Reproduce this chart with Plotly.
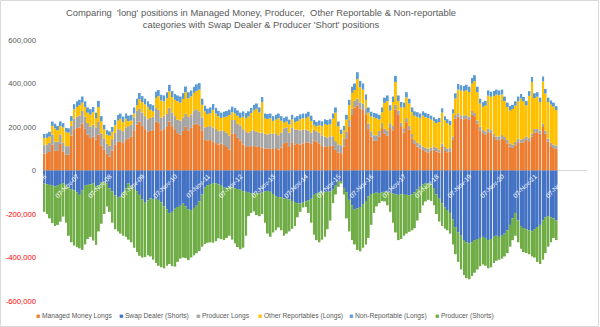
import plotly.graph_objects as go
import pandas as pd

# Monthly observation dates (7th of each month), Nov-2006 .. Jul-2022
dates = (pd.date_range("2006-11-01", periods=189, freq="MS") + pd.Timedelta(days=6)).strftime("%Y-%m-%d").tolist()

# Values in thousands of contracts
managed_money_longs = [
    78, 80, 85, 120, 92, 90, 122, 88, 74, 72, 160, 190,
    195, 198, 216, 192, 165, 150, 156, 142, 165, 115, 95, 78,
    65, 92, 118, 132, 132, 126, 140, 148, 155, 185, 212, 225,
    205, 190, 178, 182, 185, 225, 218, 185, 190, 200, 225, 204,
    190, 172, 165, 182, 202, 182, 196, 210, 216, 208, 182, 140,
    138, 140, 132, 126, 119, 124, 118, 108, 96, 170, 168, 150,
    138, 120, 112, 108, 112, 113, 110, 108, 104, 101, 100, 102,
    99, 103, 96, 105, 122, 130, 108, 130, 118, 122, 120, 125,
    130, 128, 122, 138, 132, 125, 112, 110, 108, 112, 115, 95,
    82, 80, 110, 145, 200, 255, 290, 300, 285, 278, 258, 190,
    155, 138, 136, 157, 195, 170, 160, 195, 185, 280, 255, 200,
    175, 222, 187, 148, 122, 110, 102, 95, 88, 82, 90, 95,
    88, 82, 108, 90, 84, 88, 140, 238, 248, 238, 236, 240,
    232, 258, 250, 215, 185, 172, 165, 176, 172, 155, 141, 141,
    148, 140, 125, 110, 104, 116, 130, 128, 130, 140, 135, 155,
    175, 176, 170, 200, 168, 132, 112, 103, 100]

swap_dealer_shorts = [
    -60, -63, -66, -70, -73, -70, -62, -58, -66, -78, -86, -92,
    -100, -112, -92, -70, -66, -64, -58, -72, -68, -55, -52, -60,
    -82, -96, -115, -125, -120, -100, -82, -60, -70, -85, -95, -112,
    -134, -148, -138, -128, -134, -128, -135, -146, -165, -178, -196, -190,
    -176, -168, -162, -152, -165, -180, -182, -172, -162, -142, -110, -78,
    -68, -62, -58, -58, -64, -70, -78, -80, -74, -78, -82, -85,
    -88, -95, -98, -102, -104, -106, -104, -105, -100, -96, -94, -98,
    -108, -118, -122, -124, -128, -130, -132, -140, -145, -150, -152, -148,
    -142, -138, -130, -112, -104, -102, -100, -100, -98, -96, -88, -70,
    -52, -48, -80, -100, -135, -160, -180, -175, -168, -155, -140, -118,
    -108, -104, -102, -104, -100, -98, -100, -102, -105, -110, -112, -110,
    -108, -112, -115, -110, -100, -88, -75, -65, -60, -58, -64, -80,
    -110, -130, -150, -170, -182, -195, -225, -260, -285, -300, -320, -330,
    -335, -330, -320, -315, -310, -305, -310, -320, -315, -305, -300, -305,
    -300, -290, -275, -250, -220, -195, -230, -255, -265, -270, -275, -280,
    -270, -260, -250, -230, -215, -210, -215, -220, -230]

producer_longs = [
    38, 40, 42, 45, 40, 42, 44, 40, 38, 40, 45, 48,
    52, 55, 58, 56, 54, 52, 55, 56, 58, 55, 50, 45,
    48, 52, 55, 58, 56, 55, 58, 56, 55, 60, 62, 60,
    62, 60, 58, 60, 62, 64, 60, 58, 62, 60, 64, 62,
    60, 62, 64, 62, 60, 64, 62, 65, 66, 64, 62, 58,
    62, 64, 66, 65, 62, 60, 64, 66, 65, 62, 64, 66,
    68, 70, 68, 66, 70, 72, 68, 66, 70, 68, 66, 68,
    70, 68, 66, 70, 72, 68, 66, 68, 70, 66, 64, 62,
    58, 55, 52, 50, 48, 50, 48, 46, 44, 45, 42, 40,
    38, 36, 38, 35, 32, 30, 32, 30, 28, 30, 28, 26,
    25, 24, 26, 25, 24, 22, 24, 22, 20, 22, 21, 20,
    20, 19, 18, 20, 18, 17, 18, 16, 17, 18, 16, 15,
    16, 15, 16, 18, 16, 15, 16, 17, 15, 16, 15, 14,
    15, 16, 14, 15, 16, 14, 15, 16, 15, 14, 15, 16,
    15, 14, 16, 15, 14, 15, 16, 14, 15, 16, 14, 15,
    16, 15, 14, 16, 15, 14, 15, 16, 15]

other_reportables_longs = [
    34, 30, 29, 40, 61, 53, 38, 70, 66, 62, 23, 43,
    45, 47, 38, 44, 47, 55, 57, 42, 69, 56, 43, 43,
    47, 34, 35, 40, 50, 41, 40, 23, 20, 17, 26, 43,
    47, 54, 57, 37, 25, 43, 64, 79, 66, 72, 75, 71,
    75, 85, 83, 85, 98, 86, 83, 82, 84, 100, 58, 74,
    59, 60, 81, 71, 68, 58, 63, 74, 94, 36, 31, 36,
    36, 57, 60, 75, 82, 91, 106, 93, 140, 71, 71, 70,
    59, 62, 78, 54, 26, 27, 38, 37, 34, 39, 52, 53,
    52, 64, 54, 22, 23, 33, 45, 58, 57, 57, 82, 131,
    83, 52, 36, 54, 68, 72, 48, 90, 69, 64, 38, 50,
    68, 82, 78, 53, 49, 119, 135, 59, 110, 105, 43, 71,
    94, 95, 103, 101, 112, 120, 122, 142, 140, 141, 128, 116,
    114, 126, 142, 123, 118, 106, 106, 76, 109, 113, 113, 115,
    114, 125, 147, 130, 107, 107, 118, 152, 152, 173, 193, 189,
    187, 165, 151, 151, 165, 167, 172, 189, 173, 143, 194, 236,
    142, 148, 131, 194, 171, 169, 176, 175, 163]

non_reportable_longs = [
    18, 20, 22, 20, 22, 20, 22, 20, 18, 20, 22, 24,
    26, 25, 28, 26, 24, 25, 24, 26, 28, 24, 22, 20,
    20, 22, 24, 25, 24, 26, 24, 25, 26, 28, 30, 28,
    28, 26, 25, 26, 28, 30, 28, 26, 27, 28, 30, 28,
    27, 26, 28, 27, 26, 28, 27, 28, 30, 30, 28, 26,
    25, 26, 27, 26, 25, 24, 25, 26, 25, 26, 25, 24,
    24, 25, 24, 23, 24, 26, 24, 23, 24, 22, 23, 22,
    22, 23, 22, 21, 22, 23, 22, 21, 22, 23, 22, 22,
    22, 23, 24, 22, 21, 22, 21, 22, 23, 22, 23, 24,
    22, 20, 21, 22, 25, 28, 30, 32, 30, 28, 26, 24,
    22, 21, 22, 21, 22, 24, 26, 24, 25, 28, 26, 24,
    23, 24, 22, 21, 20, 21, 20, 19, 20, 19, 18, 19,
    18, 19, 20, 19, 18, 19, 20, 24, 26, 25, 24, 25,
    24, 26, 27, 25, 22, 21, 22, 24, 23, 24, 23, 22,
    22, 21, 20, 20, 19, 20, 22, 21, 20, 21, 22, 24,
    22, 21, 20, 22, 21, 20, 19, 18, 18]

producer_shorts = [
    -130, -137, -154, -172, -182, -180, -173, -154, -174, -222, -244, -253,
    -252, -246, -273, -270, -249, -241, -264, -270, -212, -190, -148, -105,
    -108, -144, -155, -155, -170, -200, -223, -258, -260, -270, -280, -280,
    -266, -250, -252, -267, -276, -297, -303, -299, -285, -260, -234, -250,
    -266, -252, -243, -248, -237, -232, -218, -218, -218, -228, -240, -260,
    -264, -268, -274, -267, -248, -246, -242, -230, -226, -240, -253, -267,
    -274, -260, -202, -108, -91, -82, -101, -105, -100, -144, -196, -207,
    -177, -157, -140, -151, -172, -160, -148, -128, -110, -65, -38, -22,
    -26, -57, -110, -183, -216, -228, -218, -205, -172, -134, -62, -40,
    -23, -12, -30, -120, -145, -160, -160, -190, -204, -200, -200, -192,
    -142, -91, -63, -46, -40, -44, -60, -88, -135, -175, -208, -205,
    -192, -178, -167, -165, -165, -142, -120, -95, -82, -77, -76, -80,
    -90, -105, -105, -98, -93, -95, -115, -125, -135, -155, -160, -165,
    -165, -155, -150, -140, -130, -127, -128, -130, -130, -120, -115, -105,
    -105, -105, -105, -100, -100, -105, -100, -105, -110, -110, -110, -115,
    -130, -160, -180, -180, -165, -140, -115, -90, -90]

series_names = ["Managed Money Longs", "Swap Dealer (Shorts)", "Producer Longs",
                "Other Reportables (Longs)", "Non-Reportable (Longs)", "Producer (Shorts)"]
series_values = [managed_money_longs, swap_dealer_shorts, producer_longs,
                 other_reportables_longs, non_reportable_longs, producer_shorts]
series_colors = ["#ED7D31", "#4472C4", "#A5A5A5", "#FFC000", "#5B9BD5", "#70AD47"]

y_tick_values = [600, 400, 200, 0, -200, -400, -600]
y_tick_labels = ["600,000", "400,000", "200,000", "0", "-200,000", "-400,000", "-600,000"]
x_tick_years = list(range(2006, 2023))

title_text = ("Comparing  'long' positions in Managed Money, Producer,  Other Reportable &amp; Non-reportable"
              "<br>categories with Swap Dealer &amp; Producer 'Short' positions")

W, H = 600, 327
ML, MR, MT, MB = 43, 13, 40, 26
PW, PH = W - ML - MR, H - MT - MB

def px_x(px):
    return (px - ML) / PW

def px_y(py):
    return (H - MB - py) / PH

fig = go.Figure()
for name, vals, col in zip(series_names, series_values, series_colors):
    fig.add_trace(go.Bar(x=dates, y=vals, name=name, showlegend=False,
                         marker=dict(color=col, line=dict(width=0))))

red = "#FF0000"
ticktext = [(f"<span style='color:{red}'>{t}</span>" if v < 0 else t)
            for v, t in zip(y_tick_values, y_tick_labels)]

fig.update_layout(
    width=W, height=H,
    margin=dict(l=ML, r=MR, t=MT, b=MB, autoexpand=False),
    barmode="relative", bargap=0.22,
    paper_bgcolor="white", plot_bgcolor="white",
    font=dict(family="Liberation Sans, Arial, sans-serif", color="#595959", size=8),
    title=dict(text=title_text, x=261 / W, xanchor="center", xref="container",
               y=1 - 16 / H, yanchor="top", yref="container",
               font=dict(size=9.4, color="#595959")),
)

fig.update_xaxes(
    type="date", range=["2006-10-22", "2023-06-12"],
    anchor="free", position=0.5,
    tickvals=[f"{y}-11-07" for y in x_tick_years],
    ticktext=[f"07-Nov-{y % 100:02d}" for y in x_tick_years],
    tickangle=-45, tickfont=dict(color="white", size=6.5),
    ticks="", showgrid=False, showline=False, zeroline=False, automargin=False,
)
fig.update_yaxes(
    range=[-600, 600], tickvals=y_tick_values, ticktext=ticktext,
    ticks="", showgrid=False, showline=False, automargin=False,
    zeroline=True, zerolinecolor="#D9D9D9", zerolinewidth=1,
    tickfont=dict(size=7.7, color="#595959"), ticklabelstandoff=6,
)

# legend (Excel-style row of small squares + labels)
legend_x = [34, 117, 194, 256, 347, 433]
annotations = []
for name, col, lx in zip(series_names, series_colors, legend_x):
    annotations.append(dict(
        text=f"<span style='color:{col}'>■</span> {name}",
        x=px_x(lx), y=px_y(316), xref="paper", yref="paper",
        xanchor="left", yanchor="middle", showarrow=False,
        font=dict(size=6.7, color="#595959")))
fig.update_layout(annotations=annotations)

# chart-area border
fig.add_shape(type="rect", xref="paper", yref="paper",
              x0=px_x(0.5), x1=px_x(W - 1.5), y0=px_y(H - 0.5), y1=px_y(0.5),
              line=dict(color="#D9D9D9", width=1), layer="below")

fig.write_html("out.html")
